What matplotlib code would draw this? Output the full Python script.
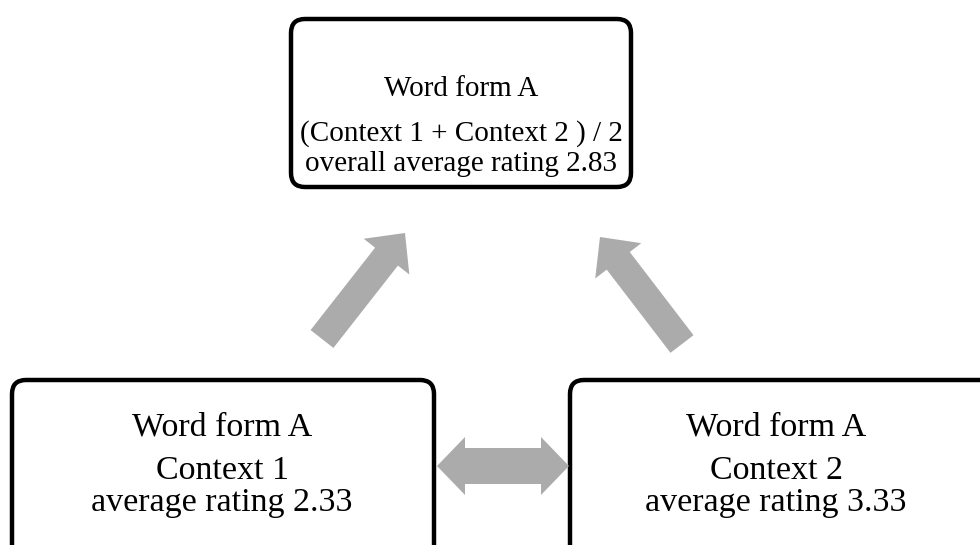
import matplotlib
matplotlib.use("Agg")
import matplotlib.pyplot as plt
from matplotlib.patches import FancyBboxPatch, FancyArrow

# --- data ---
box_titles = ["Word form A", "Word form A", "Word form A"]
box_lines2 = ["(Context 1 + Context 2 ) / 2", "Context 1", "Context 2"]
rating_labels = ["overall average rating", "average rating", "average rating"]
ratings = [2.83, 2.33, 3.33]

plt.rcParams['font.family'] = ['Liberation Serif', 'DejaVu Serif']

fig = plt.figure(figsize=(9.8, 5.45), dpi=100)
ax = fig.add_axes([0, 0, 1, 1])
ax.set_xlim(0, 980)
ax.set_ylim(545, 0)
ax.axis('off')

# boxes: (x, y, w, h)
boxes = [(291, 19, 340, 168), (12, 380, 422, 200), (570, 380, 440, 200)]
for (x, y, w, h) in boxes:
    p = FancyBboxPatch((x + 14, y + 14), w - 28, h - 28,
                       boxstyle="round,pad=14",
                       linewidth=3.2, edgecolor='black', facecolor='white',
                       clip_on=False)
    ax.add_patch(p)

fs_top = 21
fs_bot = 24.5
# top box text
ax.text(461, 89, box_titles[0], ha='center', va='center', fontsize=fs_top)
ax.text(461, 134, box_lines2[0], ha='center', va='center', fontsize=fs_top)
ax.text(461, 164, f"{rating_labels[0]} {ratings[0]:.2f}", ha='center', va='center', fontsize=fs_top)

# bottom boxes text
for cx, i in [(222, 1), (776, 2)]:
    ax.text(cx, 427, box_titles[i], ha='center', va='center', fontsize=fs_bot)
    ax.text(cx, 471, box_lines2[i], ha='center', va='center', fontsize=fs_bot)
    ax.text(cx, 503, f"{rating_labels[i]} {ratings[i]:.2f}", ha='center', va='center', fontsize=fs_bot)

gray = '#ababab'
# diagonal arrows
def arrow(x0, y0, x1, y1):
    a = FancyArrow(x0, y0, x1 - x0, y1 - y0, width=29, head_width=58,
                   head_length=30, length_includes_head=True,
                   color=gray, linewidth=0)
    ax.add_patch(a)

arrow(322, 339, 405, 233)
arrow(682, 344, 600, 237)

# double arrow
mid = 503
for tip in (437, 569):
    a = FancyArrow(mid, 466, tip - mid, 0, width=36, head_width=58,
                   head_length=28, length_includes_head=True,
                   color=gray, linewidth=0)
    ax.add_patch(a)

fig.savefig("out.png", dpi=100)
